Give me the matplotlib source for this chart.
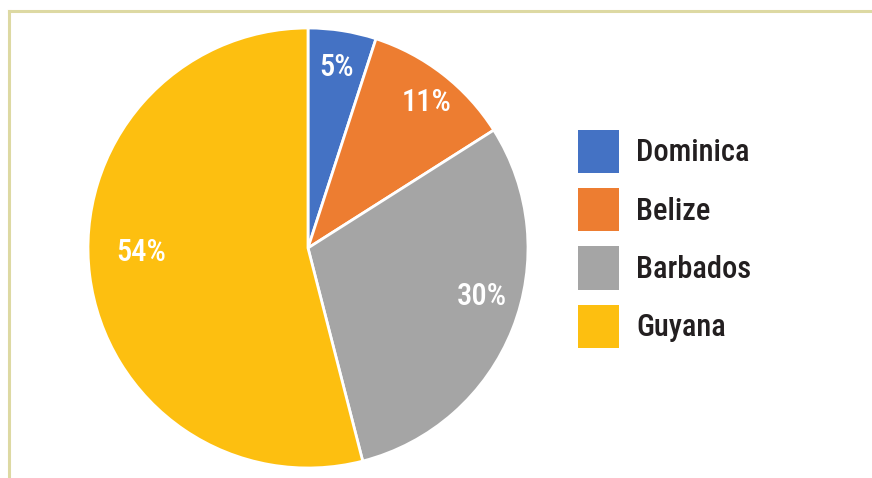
import matplotlib.pyplot as plt
from matplotlib.lines import Line2D
from matplotlib.patches import Patch

# Data
countries = ['Dominica', 'Belize', 'Barbados', 'Guyana']
shares = [5, 11, 30, 54]
colors = ['#4472C4', '#ED7D31', '#A5A5A5', '#FDBF10']

plt.rcParams['font.family'] = ['Roboto Condensed', 'Archivo Narrow', 'Liberation Sans', 'DejaVu Sans']
plt.rcParams['font.weight'] = 'medium'

W, H = 872, 478
fig = plt.figure(figsize=(W / 100, H / 100), dpi=100)

# pie axes: center (308, 248) px, radius 220 px
cx, cy, r = 308, 248, 220
ax = fig.add_axes([(cx - r) / W, (H - cy - r) / H, 2 * r / W, 2 * r / H])
wedges, texts, autotexts = ax.pie(
    shares, colors=colors, startangle=90, counterclock=False,
    autopct='%d%%', pctdistance=0.8,
    wedgeprops=dict(edgecolor='white', linewidth=2),
    textprops=dict(color='white', fontsize=22))
ax.set_xlim(-1, 1)
ax.set_ylim(-1, 1)
ax.set_aspect('equal')

# label placement like the original (Excel style)
label_pos = [(0.13, 0.82), (0.54, 0.66), (0.79, -0.22), (-0.76, -0.02)]
for t, p in zip(autotexts, label_pos):
    t.set_position(p)

# legend
handles = [Patch(facecolor=c, edgecolor='none') for c in colors]
fig.legend(handles, countries, loc='upper left',
           bbox_to_anchor=(578 / W, 1 - 130 / H), frameon=False,
           borderpad=0, borderaxespad=0,
           fontsize=22, handlelength=1.34, handleheight=1.8,
           labelspacing=0.49, handletextpad=0.56, labelcolor='#231F20')

# frame lines at top and left
fig.add_artist(Line2D([9 / W, 1], [1 - 11 / H, 1 - 11 / H], color='#DDD9A3', linewidth=2.2))
fig.add_artist(Line2D([9 / W, 9 / W], [0, 1 - 11 / H], color='#DDD9A3', linewidth=2.2))

fig.savefig('out.png', dpi=100, facecolor='white')
